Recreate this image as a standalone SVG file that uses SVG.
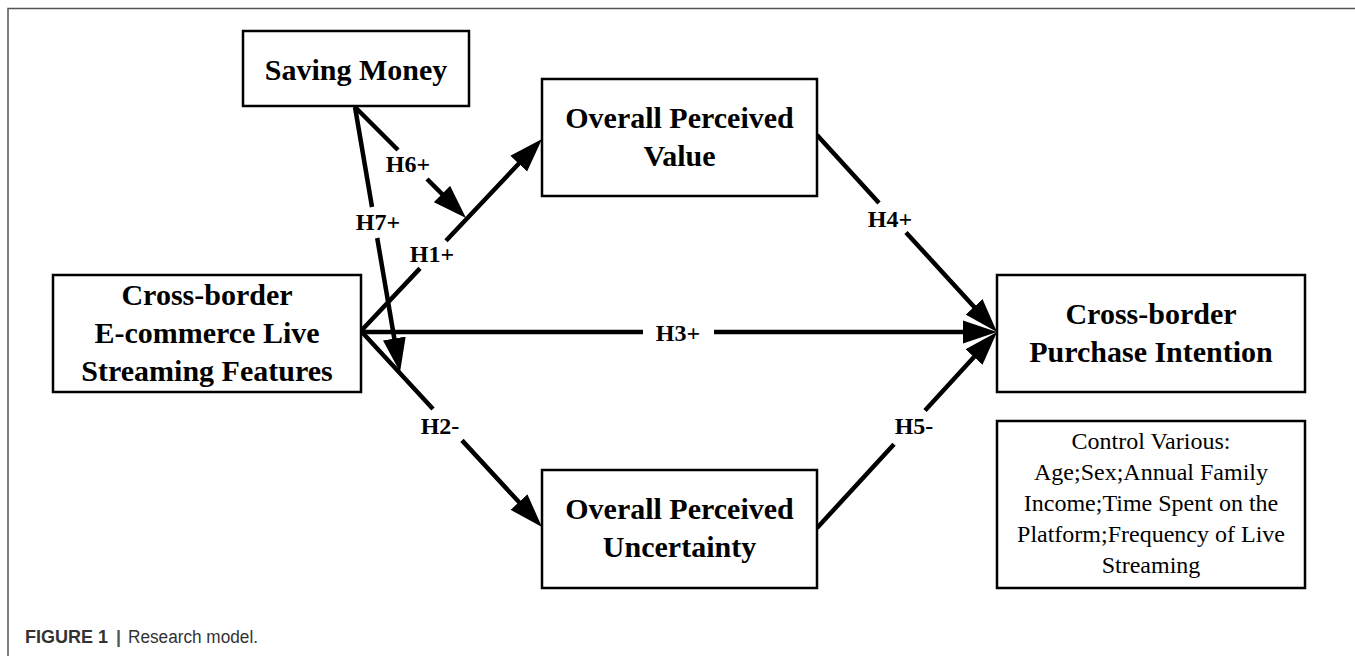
<svg xmlns="http://www.w3.org/2000/svg" width="1355" height="656" viewBox="0 0 1355 656">
<defs>
<marker id="ah" markerUnits="userSpaceOnUse" viewBox="0 -12 35 24" markerWidth="35" markerHeight="24" refX="1" refY="0" orient="auto">
<path d="M0,-11.5 L34,0 L0,11.5 Z" fill="#000"/>
</marker>
<style>
.box{fill:#fff;stroke:#000;stroke-width:2.5}
.t{font-family:"Liberation Serif","Times New Roman",serif;font-weight:bold;font-size:30px;fill:#000;text-anchor:middle}
.c{font-family:"Liberation Serif","Times New Roman",serif;font-size:24px;fill:#000;text-anchor:middle}
.lb{font-family:"Liberation Serif","Times New Roman",serif;font-weight:bold;font-size:24px;fill:#000;text-anchor:middle}
.ln{fill:none;stroke:#000;stroke-width:4.5;marker-end:url(#ah)}
.cap{font-family:"Liberation Sans",Arial,sans-serif;font-size:18px;fill:#333}
</style>
</defs>
<rect x="8" y="8.5" width="1400" height="700" fill="none" stroke="#555" stroke-width="1.5"/>
<g id="connectors">
<path class="ln" d="M361,331 L420,268.4 M446,240.8 L519.4,163"/>
<path class="ln" d="M355,107 L398,150 M427,179 L442.7,194.7"/>
<path class="ln" d="M355,107 L372,207 M377.2,238 L394.5,339.5"/>
<path class="ln" d="M361,331 L433,409 M462,440.4 L519.6,502.8"/>
<path class="ln" d="M361,332 L643,332 M714,332 L964,332"/>
<path class="ln" d="M817,135 L879,202.9 M906,232.4 L974.7,307.6"/>
<path class="ln" d="M817,528 L894,444.2 M925,410.4 L974.7,356.3"/>
<text class="lb" x="408" y="172">H6+</text>
<text class="lb" x="378" y="230">H7+</text>
<text class="lb" x="432" y="262">H1+</text>
<text class="lb" x="440" y="434">H2-</text>
<text class="lb" x="678" y="341">H3+</text>
<text class="lb" x="890" y="227">H4+</text>
<text class="lb" x="914" y="434">H5-</text>
</g>
<g id="saving-money">
<rect class="box" x="243" y="31" width="226" height="75"/>
<text class="t" x="356" y="80">Saving Money</text>
</g>
<g id="perceived-value">
<rect class="box" x="542" y="79" width="275" height="117"/>
<text class="t" x="679.5" y="128">Overall Perceived</text>
<text class="t" x="679.5" y="166">Value</text>
</g>
<g id="live-streaming-features">
<rect class="box" x="53" y="275" width="308" height="117"/>
<text class="t" x="207" y="305">Cross-border</text>
<text class="t" x="207" y="343">E-commerce Live</text>
<text class="t" x="207" y="381">Streaming Features</text>
</g>
<g id="purchase-intention">
<rect class="box" x="997" y="275" width="308" height="117"/>
<text class="t" x="1151" y="324">Cross-border</text>
<text class="t" x="1151" y="362">Purchase Intention</text>
</g>
<g id="perceived-uncertainty">
<rect class="box" x="542" y="470" width="275" height="118"/>
<text class="t" x="679.5" y="519">Overall Perceived</text>
<text class="t" x="679.5" y="557">Uncertainty</text>
</g>
<g id="control-variables">
<rect class="box" x="997" y="421" width="308" height="167"/>
<text class="c" x="1151" y="449">Control Various:</text>
<text class="c" x="1151" y="480">Age;Sex;Annual Family</text>
<text class="c" x="1151" y="511">Income;Time Spent on the</text>
<text class="c" x="1151" y="542">Platform;Frequency of Live</text>
<text class="c" x="1151" y="573">Streaming</text>
</g>
<text class="cap" x="25" y="643"><tspan font-weight="bold">FIGURE 1</tspan><tspan x="116" font-weight="bold" fill="#555">|</tspan><tspan x="128" textLength="130" lengthAdjust="spacingAndGlyphs">Research model.</tspan></text>
</svg>
